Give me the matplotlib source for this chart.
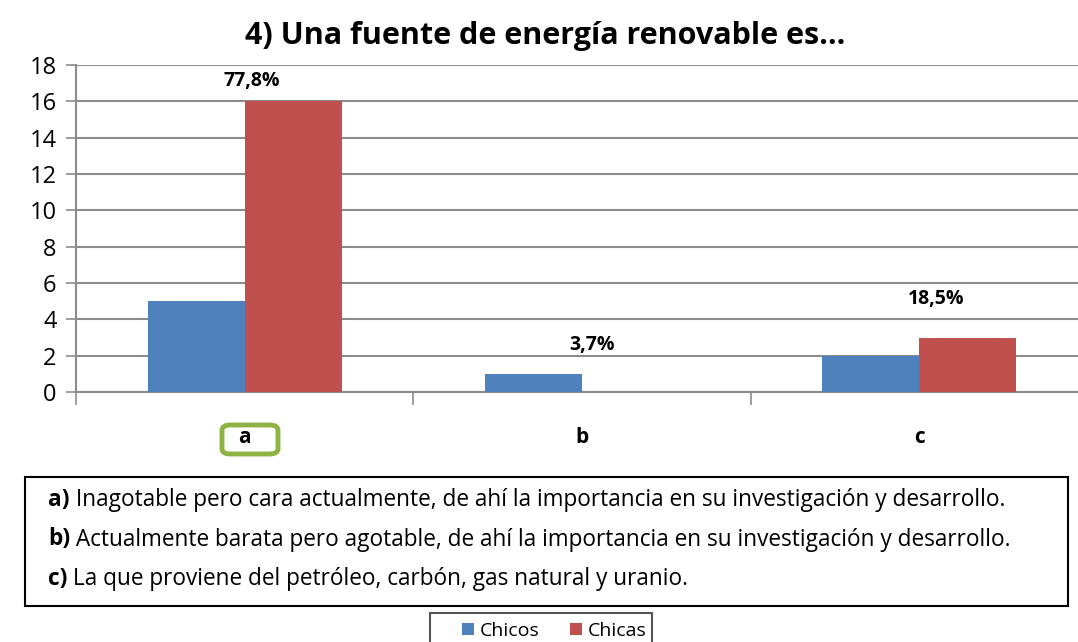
import matplotlib.pyplot as plt
import numpy as np
from matplotlib.patches import FancyBboxPatch, Rectangle

categorias = ["a", "b", "c"]
chicos = [5, 1, 2]
chicas = [16, 0, 3]
etiquetas = ["77,8%", "3,7%", "18,5%"]
etiqueta_x = [0.02, 1.03, 2.05]
etiqueta_y = [17.1, 2.6, 5.1]
opciones = [
    ("a)", " Inagotable pero cara actualmente, de ahí la importancia en su investigación y desarrollo."),
    ("b)", " Actualmente barata pero agotable, de ahí la importancia en su investigación y desarrollo."),
    ("c)", " La que proviene del petróleo, carbón, gas natural y uranio."),
]

plt.rcParams['font.family'] = ['Open Sans', 'DejaVu Sans']
azul = "#4f81bd"
rojo = "#c0504d"
gris = "#8c8c8c"

fig = plt.figure(figsize=(10.78, 6.42), dpi=100)
ax = fig.add_axes([76 / 1078, 1 - 392 / 642, (1088 - 76) / 1078, (392 - 65) / 642])

x = np.arange(len(categorias))
w = 0.288
ax.bar(x - w / 2, chicos, w, color=azul, label="Chicos", zorder=3)
ax.bar(x + w / 2, chicas, w, color=rojo, label="Chicas", zorder=3)

for tx, ty, t in zip(etiqueta_x, etiqueta_y, etiquetas):
    ax.text(tx, ty, t, ha="center", va="center", fontsize=14, fontweight="bold")

ax.set_xlim(-0.5, 2.5)
ax.set_ylim(0, 18)
ax.set_yticks(range(0, 19, 2))
ax.yaxis.grid(True, color=gris, linewidth=1.5, zorder=0)
ax.set_axisbelow(True)
ax.tick_params(axis="y", labelsize=17, length=7, color=gris, width=1.2, pad=7)
ax.set_xticks(x)
ax.set_xticklabels(categorias, fontsize=15, fontweight="bold")
ax.tick_params(axis="x", which="major", length=0, pad=25)
ax.set_xticks([-0.5, 0.5, 1.5], minor=True)
ax.tick_params(axis="x", which="minor", length=9, color=gris, width=1.2)
for s in ["top", "right"]:
    ax.spines[s].set_visible(False)
ax.spines["left"].set_color(gris)
ax.spines["bottom"].set_color(gris)
ax.spines["left"].set_linewidth(1.5)
ax.spines["bottom"].set_linewidth(1.5)

fig.text(545 / 1078, 1 - 36 / 642, "4) Una fuente de energía renovable es...",
         ha="center", va="center", fontsize=22, fontweight="bold")

# recuadro verde de la respuesta correcta
fig.patches.append(FancyBboxPatch((222 / 1078, 1 - 454 / 642), 56 / 1078, 29 / 642,
                                  boxstyle="round,pad=0,rounding_size=0.008",
                                  transform=fig.transFigure, fill=False,
                                  edgecolor="#8db443", linewidth=3.5))

# recuadro de opciones
fig.patches.append(Rectangle((25 / 1078, 1 - 606 / 642), 1043 / 1078, 129 / 642,
                             transform=fig.transFigure, fill=False,
                             edgecolor="black", linewidth=1.5))
for i, (letra, texto) in enumerate(opciones):
    yy = 1 - (500 + 39.5 * i) / 642
    t1 = fig.text(48 / 1078, yy, letra, fontsize=16.3, fontweight="bold", va="center")
    fig.canvas.draw()
    bb = t1.get_window_extent()
    fig.text(bb.x1 / 1078, yy, texto, fontsize=16.3, va="center")

# leyenda (recortada abajo como en la original)
fig.patches.append(Rectangle((430 / 1078, -0.02), 222 / 1078, 1 - 613 / 642 + 0.02,
                             transform=fig.transFigure, fill=False,
                             edgecolor="#555555", linewidth=1.5))
handles, labels = ax.get_legend_handles_labels()
fig.legend(handles, labels, loc="center left", bbox_to_anchor=(462 / 1078, 1 - 631 / 642),
           ncol=2, fontsize=14, frameon=False,
           handlelength=0.6, handleheight=0.6, handletextpad=0.3, columnspacing=1.6,
           borderpad=0, borderaxespad=0)

fig.savefig("out.png", dpi=100)
